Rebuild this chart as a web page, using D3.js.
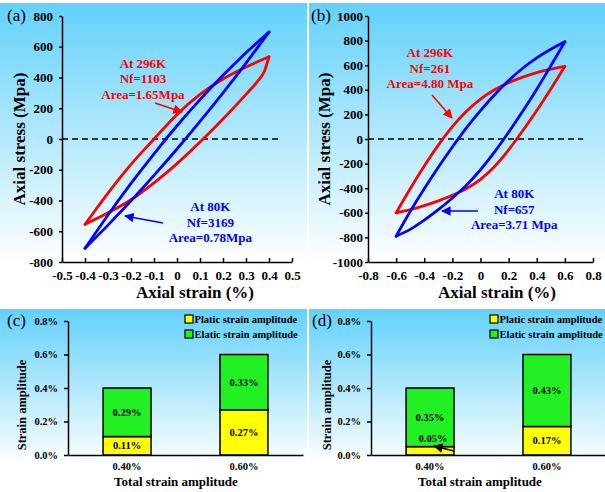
<!DOCTYPE html>
<html>
<head>
<meta charset="utf-8">
<script src="https://cdn.jsdelivr.net/npm/d3@7"></script>
<style>
  body { margin: 0; background: #fff; }
  svg text { font-family: "Liberation Serif", "Times New Roman", serif; }
</style>
</head>
<body>
<div id="chart"></div>
<script>
// ---- data ----
// (a) strain amplitude 0.4 %, each branch listed left to right
const redA_up   = [[-0.4,-555],[-0.35,-452],[-0.3,-352],[-0.2,-165],[-0.1,0],[0,160],[0.1,290],[0.2,390],[0.3,468],[0.4,535]];
const redA_lo   = [[-0.4,-555],[-0.3,-480],[-0.2,-395],[-0.1,-285],[0,-160],[0.1,-20],[0.2,130],[0.3,290],[0.35,375],[0.38,440],[0.4,535]];
const blueA_up  = [[-0.4,-711],[-0.3,-494],[-0.2,-289],[-0.1,-96],[0,86],[0.1,256],[0.2,414],[0.3,561],[0.4,696]];
const blueA_lo  = [[-0.4,-711],[-0.3,-560],[-0.2,-402],[-0.1,-237],[0,-65],[0.1,114],[0.2,300],[0.3,494],[0.4,696]];

// (b) strain amplitude 0.6 %
const redB_up   = [[-0.6,-600],[-0.5,-405],[-0.4,-220],[-0.3,-50],[-0.2,100],[-0.1,225],[0,325],[0.1,400],[0.2,458],[0.3,503],[0.4,540],[0.5,568],[0.6,590]];
const redB_lo   = [[-0.6,-600],[-0.5,-575],[-0.4,-542],[-0.3,-503],[-0.2,-458],[-0.1,-403],[0,-328],[0.1,-223],[0.2,-88],[0.3,67],[0.4,232],[0.5,407],[0.6,590]];
const blueB_up  = [[-0.6,-790],[-0.5,-590],[-0.4,-405],[-0.3,-230],[-0.2,-65],[-0.1,90],[0,230],[0.1,360],[0.2,475],[0.3,575],[0.4,660],[0.5,730],[0.6,790]];
const blueB_lo  = [[-0.6,-790],[-0.5,-735],[-0.4,-660],[-0.3,-575],[-0.2,-480],[-0.1,-375],[0,-250],[0.1,-105],[0.2,55],[0.3,225],[0.4,405],[0.5,595],[0.6,790]];

const strainTicksA = [-0.5,-0.4,-0.3,-0.2,-0.1,0,0.1,0.2,0.3,0.4,0.5];
const stressTicksA = [-800,-600,-400,-200,0,200,400,600,800];
const strainTicksB = [-0.8,-0.6,-0.4,-0.2,0,0.2,0.4,0.6,0.8];
const stressTicksB = [-1000,-800,-600,-400,-200,0,200,400,600,800,1000];

const textRedA  = ["At 296K","Nf=1103","Area=1.65Mpa"];
const textBlueA = ["At 80K","Nf=3169","Area=0.78Mpa"];
const textRedB  = ["At 296K","Nf=261","Area=4.80 Mpa"];
const textBlueB = ["At 80K","Nf=657","Area=3.71 Mpa"];

// (c), (d) strain amplitude split
const totalCats = ["0.40%","0.60%"];
const plasticC = [0.11, 0.27];
const elasticC = [0.29, 0.33];
const plasticD = [0.05, 0.17];
const elasticD = [0.35, 0.43];
const ampTicks = [0, 0.2, 0.4, 0.6, 0.8];
const ampTickLabels = ["0.0%","0.2%","0.4%","0.6%","0.8%"];
const legendNames = ["Platic strain amplitude","Elatic strain amplitude"];

// ---- svg ----
let svg = d3.select("#chart").append("svg")
  .attr("width", 605)
  .attr("height", 492);

let defs = svg.append("defs");
let grad = defs.append("linearGradient").attr("id", "bg")
  .attr("x1", 0).attr("y1", 0).attr("x2", 0).attr("y2", 1);
grad.append("stop").attr("offset", "0%").attr("stop-color", "#62d1fb");
grad.append("stop").attr("offset", "85%").attr("stop-color", "#ffffff");

["red", "blue", "black"].forEach(function (c) {
  defs.append("marker")
    .attr("id", "arrow-" + c)
    .attr("viewBox", "0 0 10 10")
    .attr("refX", 9).attr("refY", 5)
    .attr("markerWidth", 6).attr("markerHeight", 6)
    .attr("orient", "auto")
    .append("path").attr("d", "M0,0L10,5L0,10z").attr("fill", c);
});

function styleAxis(g, size) {
  g.select(".domain").attr("stroke", "#000").attr("stroke-width", 1.5);
  g.selectAll(".tick line").attr("stroke", "#000").attr("stroke-width", 1.5);
  g.selectAll("text")
    .attr("fill", "#000")
    .style("font-family", "'Liberation Serif', serif")
    .style("font-weight", "bold")
    .style("font-size", size + "px");
}

function panelBox(b, label, lx, ly) {
  svg.append("rect")
    .attr("x", b[0]).attr("y", b[1])
    .attr("width", b[2]).attr("height", b[3])
    .attr("fill", "url(#bg)");
  svg.append("text")
    .attr("x", lx).attr("y", ly)
    .style("font-size", "17px")
    .text(label);
}

function annotate(lines, x, y, color, size) {
  let t = svg.append("text")
    .attr("text-anchor", "middle")
    .attr("fill", color)
    .style("font-weight", "bold")
    .style("font-size", size + "px");
  lines.forEach(function (s, i) {
    t.append("tspan").attr("x", x).attr("y", y + i * 15.5).text(s);
  });
}

function arrow(x1, y1, x2, y2, color) {
  svg.append("line")
    .attr("x1", x1).attr("y1", y1).attr("x2", x2).attr("y2", y2)
    .attr("stroke", color).attr("stroke-width", 1.6)
    .attr("marker-end", "url(#arrow-" + color + ")");
}

// ---- hysteresis loop panels ----
function loopPanel(p) {
  panelBox(p.box, p.label, p.labelX, 21);

  let x = d3.scaleLinear().domain(p.xDomain).range(p.xRange);
  let y = d3.scaleLinear().domain(p.yDomain).range([262, 16]);

  let gx = svg.append("g")
    .attr("transform", "translate(0,262)")
    .call(d3.axisBottom(x).tickValues(p.xTicks).tickSize(-4).tickSizeOuter(0)
      .tickPadding(9).tickFormat(d => String(d)));
  styleAxis(gx, 13);

  let gy = svg.append("g")
    .attr("transform", "translate(" + p.xRange[0] + ",0)")
    .call(d3.axisLeft(y).tickValues(p.yTicks).tickSize(3).tickSizeOuter(0)
      .tickPadding(p.yPad).tickFormat(d => String(d)));
  styleAxis(gy, 13);

  // zero line
  svg.append("line")
    .attr("x1", x(p.xDomain[0])).attr("x2", x(p.dashTo))
    .attr("y1", y(0)).attr("y2", y(0))
    .attr("stroke", "#000").attr("stroke-width", 1.6)
    .attr("stroke-dasharray", "6,4");

  let line = d3.line()
    .x(d => x(d[0]))
    .y(d => y(d[1]))
    .curve(d3.curveMonotoneX);

  p.loops.forEach(function (l) {
    svg.append("path")
      .attr("d", line(l.data))
      .attr("fill", "none")
      .attr("stroke", l.color)
      .attr("stroke-width", 2.8)
      .attr("stroke-linejoin", "round")
      .attr("stroke-linecap", "round");
  });

  // annotations, anchored in data units
  annotate(p.redText, x(p.redAt[0]), y(p.redAt[1]), "red", 13);
  annotate(p.blueText, x(p.blueAt[0]), y(p.blueAt[1]), "blue", 13);
  arrow(x(p.redArrow[0]), y(p.redArrow[1]), x(p.redArrow[2]), y(p.redArrow[3]), "red");
  arrow(x(p.blueArrow[0]), y(p.blueArrow[1]), x(p.blueArrow[2]), y(p.blueArrow[3]), "blue");

  // axis titles
  svg.append("text")
    .attr("transform", "translate(" + p.yTitleX + ",139) rotate(-90)")
    .attr("text-anchor", "middle")
    .style("font-weight", "bold").style("font-size", "17px")
    .text("Axial stress (Mpa)");
  svg.append("text")
    .attr("x", p.xTitleX).attr("y", 298)
    .attr("text-anchor", "middle")
    .style("font-weight", "bold").style("font-size", "17px")
    .text("Axial strain (%)");
}

loopPanel({
  label: "(a)", labelX: 7, box: [0, 3, 307, 305],
  xDomain: [-0.5, 0.5], xRange: [62, 292], xTicks: strainTicksA,
  yDomain: [-800, 800], yTicks: stressTicksA, yPad: 6,
  dashTo: 0.44,
  loops: [
    { data: redA_up, color: "red" }, { data: redA_lo, color: "red" },
    { data: blueA_up, color: "blue" }, { data: blueA_lo, color: "blue" }
  ],
  redText: textRedA, redAt: [-0.148, 465],
  blueText: textBlueA, blueAt: [0.145, -470],
  redArrow: [-0.096, 234, 0.022, 176],
  blueArrow: [-0.061, -546, -0.226, -501],
  yTitleX: 25, xTitleX: 195
});

loopPanel({
  label: "(b)", labelX: 311, box: [309, 3, 296, 305],
  xDomain: [-0.8, 0.8], xRange: [368, 593], xTicks: strainTicksB,
  yDomain: [-1000, 1000], yTicks: stressTicksB, yPad: 2,
  dashTo: 0.73,
  loops: [
    { data: redB_up, color: "red" }, { data: redB_lo, color: "red" },
    { data: blueB_up, color: "blue" }, { data: blueB_lo, color: "blue" }
  ],
  redText: textRedB, redAt: [-0.36, 665],
  blueText: textBlueB, blueAt: [0.24, -480],
  redArrow: [-0.345, 358, -0.203, 171],
  blueArrow: [-0.018, -585, -0.274, -585],
  yTitleX: 330, xTitleX: 497
});

// ---- stacked bar panels ----
function barPanel(p) {
  panelBox(p.box, p.label, p.labelX, 326);

  let x = d3.scaleBand().domain(totalCats).range(p.xRange)
    .paddingInner(0.59).paddingOuter(0.3);
  let y = d3.scaleLinear().domain([0, 0.8]).range([455, 321]);

  let gy = svg.append("g")
    .attr("transform", "translate(" + p.xRange[0] + ",0)")
    .call(d3.axisLeft(y).tickValues(ampTicks).tickSize(4).tickSizeOuter(0)
      .tickPadding(6).tickFormat((d, i) => ampTickLabels[i]));
  styleAxis(gy, 10.5);

  totalCats.forEach(function (c, i) {
    let pl = p.plastic[i], el = p.elastic[i];
    svg.append("rect")
      .attr("x", x(c)).attr("width", x.bandwidth())
      .attr("y", y(pl)).attr("height", y(0) - y(pl))
      .attr("fill", "#ffff00").attr("stroke", "#000").attr("stroke-width", 1.5);
    svg.append("rect")
      .attr("x", x(c)).attr("width", x.bandwidth())
      .attr("y", y(pl + el)).attr("height", y(pl) - y(pl + el))
      .attr("fill", "#22f022").attr("stroke", "#000").attr("stroke-width", 1.5);

    let cx = x(c) + x.bandwidth() / 2;
    svg.append("text")
      .attr("x", cx).attr("y", y(pl + el / 2)).attr("dy", "0.35em")
      .attr("text-anchor", "middle")
      .style("font-weight", "bold").style("font-size", "10.5px")
      .text(el.toFixed(2) + "%");
    // the thin plastic part gets its label above the segment, with an arrow
    let small = pl < 0.08;
    svg.append("text")
      .attr("x", cx + (small ? 3 : 0)).attr("y", small ? y(0.1) : y(pl / 2)).attr("dy", "0.35em")
      .attr("text-anchor", "middle")
      .style("font-weight", "bold").style("font-size", "10.5px")
      .text(pl.toFixed(2) + "%");
    if (small) {
      arrow(x(c) + x.bandwidth(), y(0.024), cx + 4, y(0.054), "black");
    }
  });

  let gx = svg.append("g")
    .attr("transform", "translate(0,455)")
    .call(d3.axisBottom(x).tickSize(0).tickSizeOuter(0).tickPadding(8));
  styleAxis(gx, 10.5);

  // legend
  let colors = ["#ffff00", "#22f022"];
  legendNames.forEach(function (n, i) {
    let ly = 319 + i * 15;
    svg.append("rect")
      .attr("x", p.legendX).attr("y", ly - 4)
      .attr("width", 8).attr("height", 8)
      .attr("fill", colors[i]).attr("stroke", "#000").attr("stroke-width", 1.2);
    svg.append("text")
      .attr("x", p.legendX + 9.5).attr("y", ly).attr("dy", "0.35em")
      .style("font-weight", "bold").style("font-size", "10.5px")
      .text(n);
  });

  svg.append("text")
    .attr("transform", "translate(" + p.yTitleX + ",405) rotate(-90)")
    .attr("text-anchor", "middle")
    .style("font-weight", "bold").style("font-size", "12.5px")
    .text("Strain amplitude");
  svg.append("text")
    .attr("x", p.xTitleX).attr("y", 486)
    .attr("text-anchor", "middle")
    .style("font-weight", "bold").style("font-size", "13px")
    .text("Total strain amplitude");
}

barPanel({
  label: "(c)", labelX: 7, box: [0, 309, 307, 183],
  xRange: [68, 303], plastic: plasticC, elastic: elasticC,
  legendX: 185, yTitleX: 26, xTitleX: 176
});

barPanel({
  label: "(d)", labelX: 312, box: [309, 309, 296, 183],
  xRange: [371, 606], plastic: plasticD, elastic: elasticD,
  legendX: 490, yTitleX: 331, xTitleX: 480
});
</script>
</body>
</html>
